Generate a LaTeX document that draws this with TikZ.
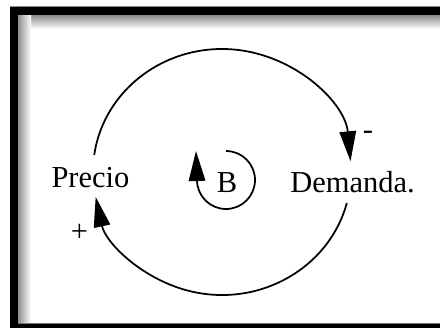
\documentclass[tikz,border=0pt]{standalone}
\usepackage{fontspec}
\setmainfont{Liberation Serif}
\usetikzlibrary{arrows.meta,calc}
\begin{document}
\begin{tikzpicture}[x=0.4pt,y=0.4pt,
    link/.style={line width=0.7pt,-{Triangle[length=12pt,width=6.6pt]}},
    lbl/.style={font=\fontsize{12.2}{14}\selectfont,inner sep=0pt,anchor=base}]
  \useasboundingbox (0,0) rectangle (440,328);
  % Frame and its inner shadow
  \shade[top color=black!45,bottom color=white] (17.5,299) rectangle (440,313);
  \shade[left color=black!45,right color=white] (17.5,4) rectangle (31,313);
  \fill[black!45] (10,321) rectangle (440,322.5);
  \fill[black!55] (17.5,4) rectangle (440,5.5);
  \fill[black] (10,313) rectangle (440,321);
  \fill[black] (10,0.5) rectangle (17.5,321);
  \fill[black] (10,0.5) rectangle (440,4);
  % Variables
  \node[lbl] (precio) at (90.5,141) {Precio};
  \node[lbl] (demanda) at (352.5,136) {Demanda.};
  \node[lbl] (loopB) at (227,136) {B};
  \node[lbl] (minus) at (368,189) {-};
  \node[lbl] (plus) at (79.5,87) {+};
  % Loop arcs
  \coordinate (O) at (222,156);
  \coordinate (s1) at ($(O)+(172:129 and 123)$);
  \coordinate (s2) at ($(O)+(-14.6:129 and 123)$);
  \draw[link] (s1) arc[start angle=172,end angle=5,x radius=129,y radius=123];
  \draw[link] (s2) arc[start angle=-14.6,end angle=-168.3,x radius=129,y radius=123];
  % Balancing loop marker
  \coordinate (l1) at (226,177);
  \draw[link] (l1) arc[start angle=90,end angle=-180,radius=29] -- ++(-1,29);
\end{tikzpicture}
\end{document}
